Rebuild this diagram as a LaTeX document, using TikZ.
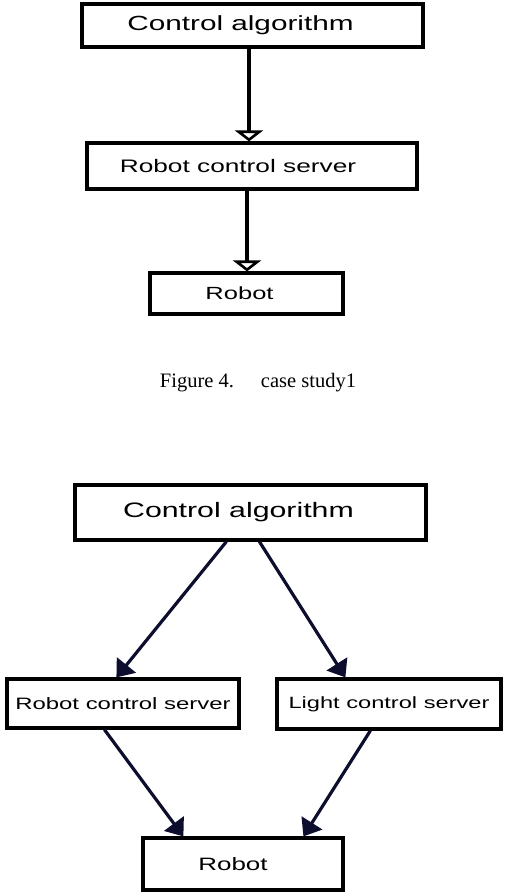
\documentclass[tikz,border=0pt]{standalone}
\usepackage{fontspec}
\setmainfont{Liberation Serif}
\newfontfamily\widesans[FakeStretch=1.45]{Liberation Sans}
\usetikzlibrary{arrows.meta,calc}
\definecolor{navy}{rgb}{0.05,0.05,0.18}
\begin{document}
\begin{tikzpicture}[x=1pt,y=-1pt,
  box/.style={draw=black,line width=3.2pt,inner sep=0pt,rectangle},
  openarrow/.style={line width=3.2pt,-{Triangle[open,width=28pt,length=11pt,line width=2.6pt]}},
  solidarrow/.style={draw=navy,line width=3.2pt,-{Triangle[width=24pt,length=16pt,fill=navy]}},
  lbl/.style={font=\widesans}]
\useasboundingbox (0,0) rectangle (508,894);
% --- Figure 4 ---
\node[box,minimum width=341pt,minimum height=43pt,
  label={[lbl,font=\widesans\fontsize{20.5}{24}\selectfont,xshift=-12pt]center:Control algorithm}] (n1) at (252.5,25.5) {};
\node[box,minimum width=330pt,minimum height=46pt,
  label={[lbl,font=\widesans\fontsize{18.1}{22}\selectfont,xshift=-14pt]center:Robot control server}] (n2) at (252,166) {};
\node[box,minimum width=193pt,minimum height=41pt,
  label={[lbl,font=\widesans\fontsize{17.6}{21}\selectfont,xshift=-7pt]center:Robot}] (n3) at (246.5,293.5) {};
\draw[openarrow] ([xshift=-3.5pt]n1.south) -- ([xshift=-3pt]n2.north);
\draw[openarrow] ([xshift=-5pt]n2.south) -- ([xshift=0.5pt]n3.north);
\node[anchor=base,font=\fontsize{20.5}{24}\selectfont,inner sep=0pt] (cap) at (258,387) {Figure 4.\hspace{27pt}case study1};
% --- Figure 5 ---
\node[box,minimum width=351pt,minimum height=55pt,
  label={[lbl,font=\widesans\fontsize{20.9}{25}\selectfont,xshift=-12pt]center:Control algorithm}] (A) at (250.5,512.5) {};
\node[box,minimum width=232pt,minimum height=49pt,
  label={[lbl,font=\widesans\fontsize{16.5}{20}\selectfont]center:Robot control server}] (B) at (123,703.5) {};
\node[box,minimum width=224pt,minimum height=50pt,
  label={[lbl,font=\widesans\fontsize{16.3}{20}\selectfont]center:Light control server}] (C) at (389,704) {};
\node[box,minimum width=200pt,minimum height=52pt,
  label={[lbl,font=\widesans\fontsize{17.9}{21}\selectfont,xshift=-10pt]center:Robot}] (D) at (243,864) {};
\draw[solidarrow] ([xshift=153pt]A.south west) -- ([xshift=111pt]B.north west);
\draw[solidarrow] ([xshift=186pt]A.south west) -- ([xshift=70pt]C.north west);
\draw[solidarrow] ([xshift=99pt]B.south west) -- ([xshift=42pt]D.north west);
\draw[solidarrow] ([xshift=95pt]C.south west) -- ([xshift=162pt]D.north west);
\end{tikzpicture}
\end{document}
